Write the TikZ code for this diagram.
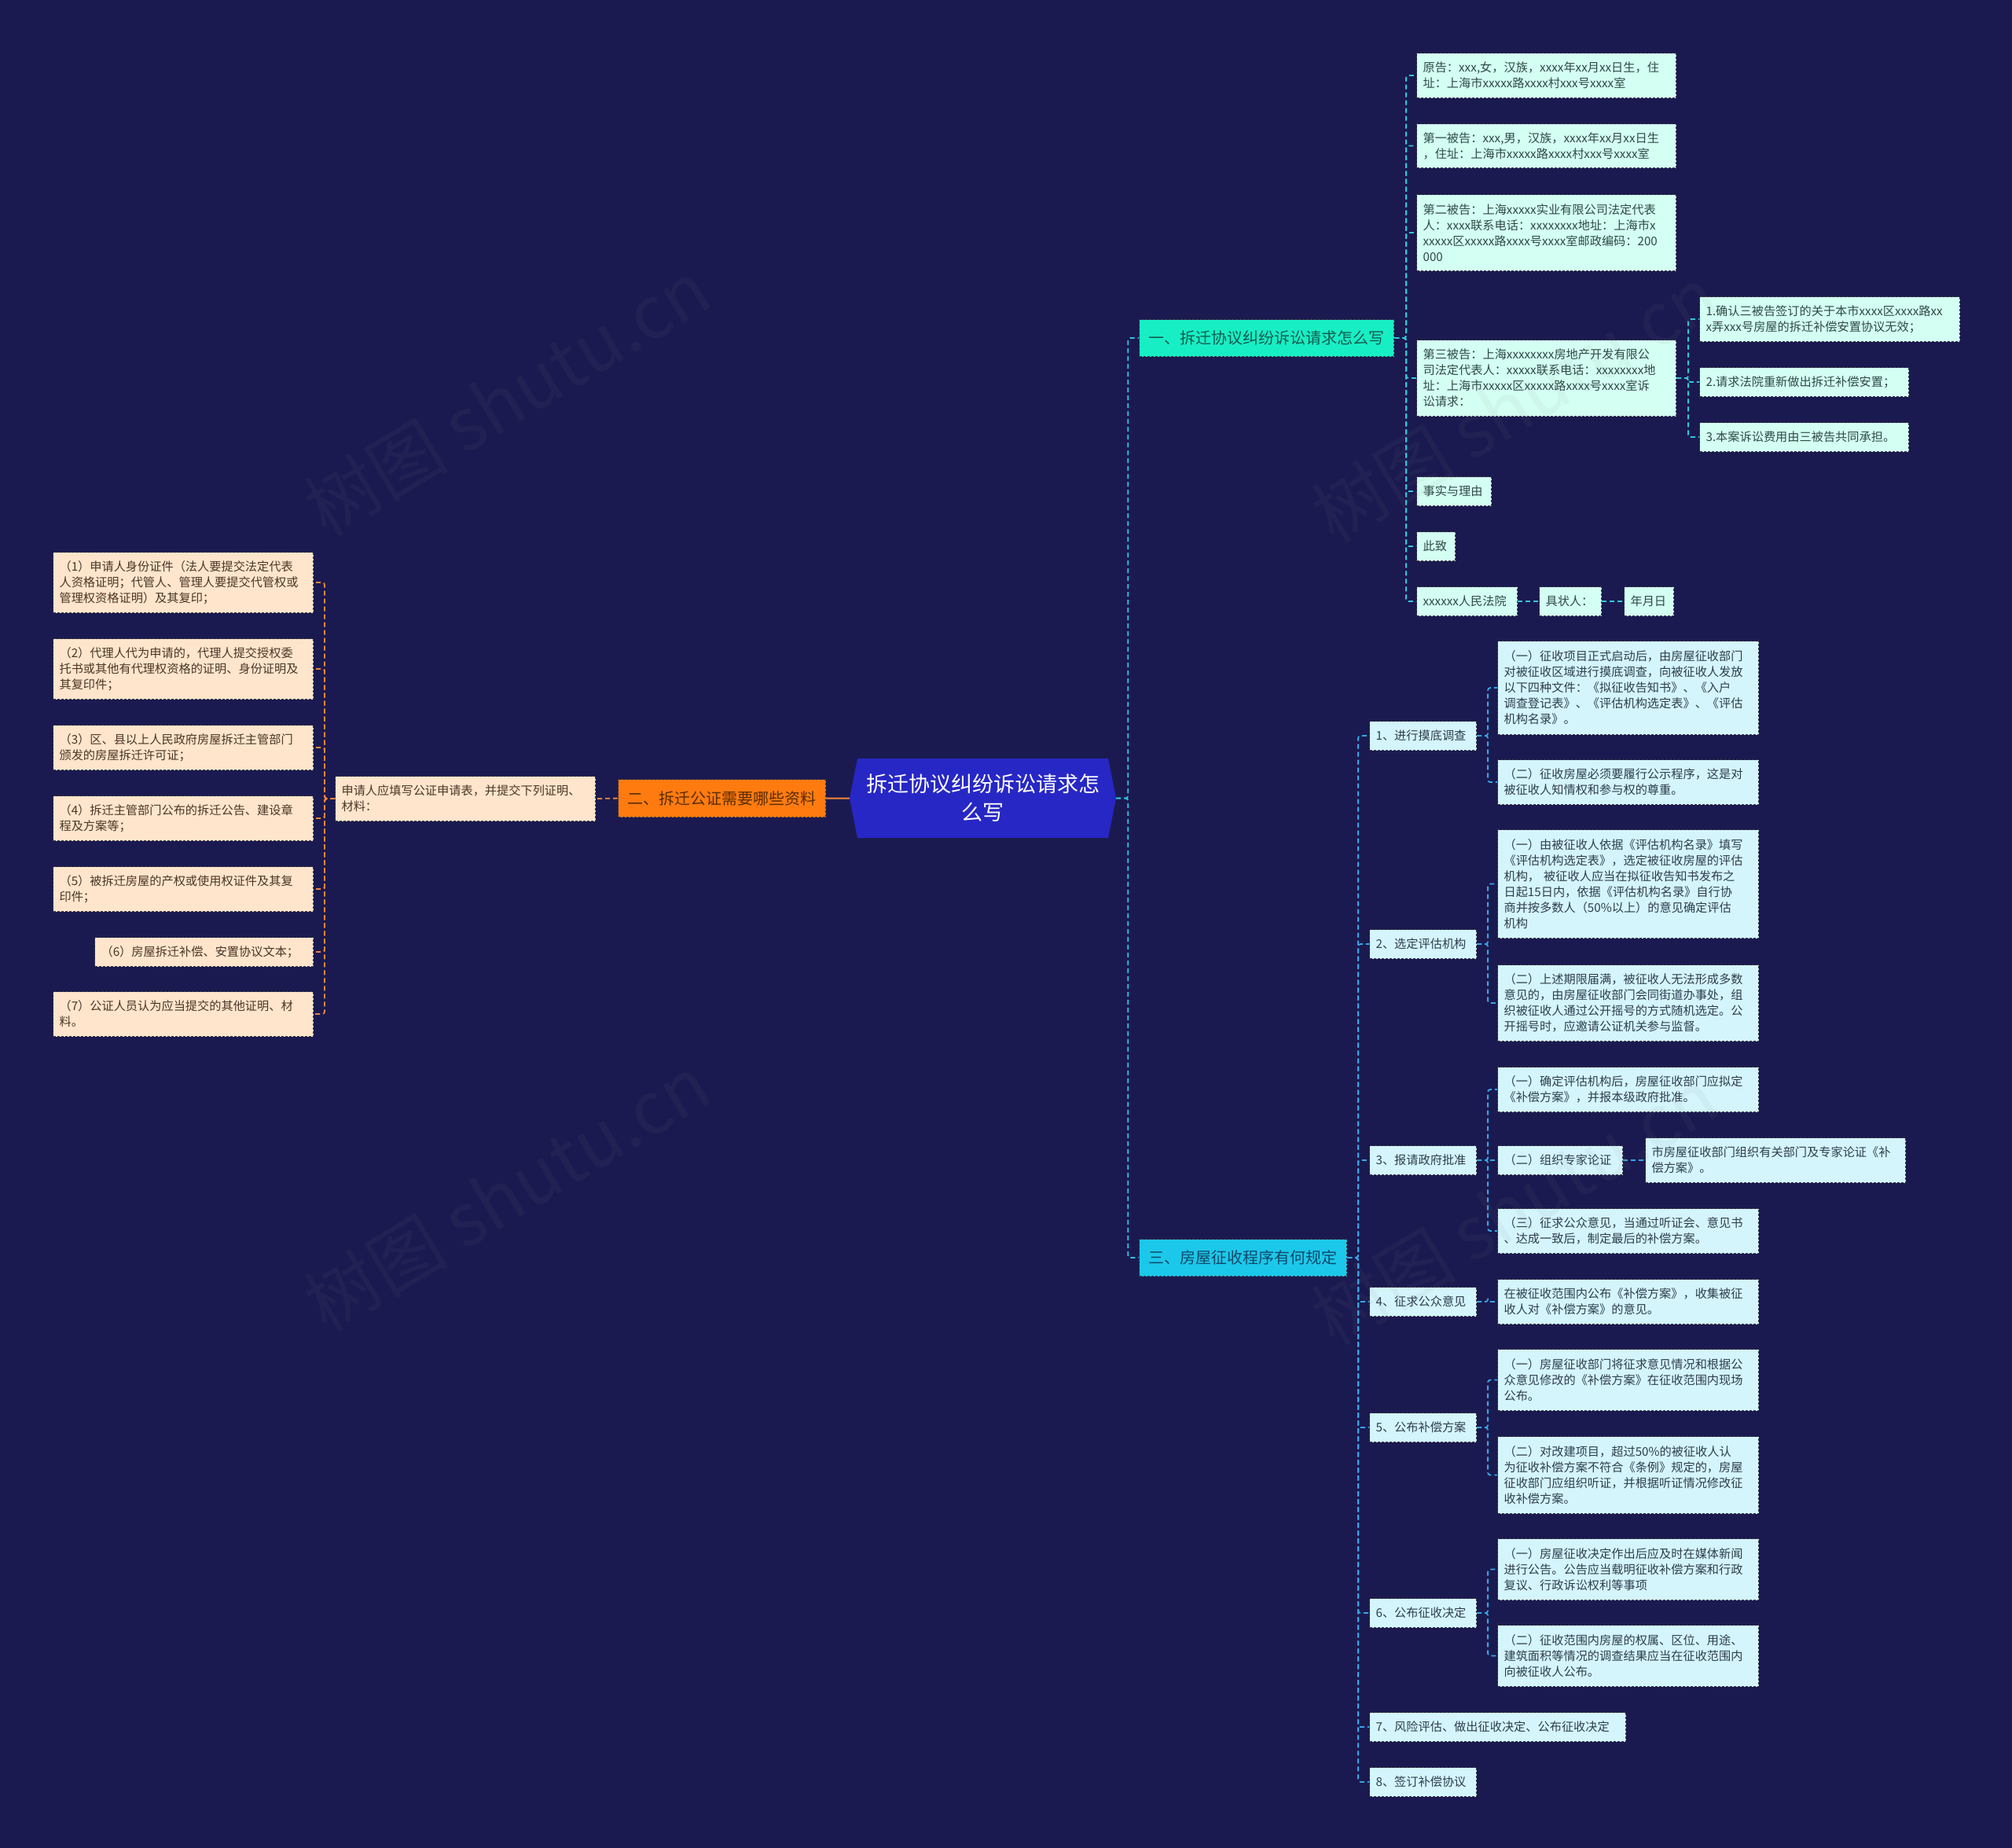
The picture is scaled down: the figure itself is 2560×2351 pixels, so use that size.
\documentclass[tikz,border=0pt]{standalone}
\usepackage{fontspec}
\setmainfont{Noto Sans CJK SC}
\definecolor{bg}{HTML}{1B1A50}
\definecolor{rootblue}{HTML}{2727C6}
\definecolor{bonefill}{HTML}{18EEC4}
\definecolor{bthreefill}{HTML}{1CC8EA}
\definecolor{btwofill}{HTML}{FF7B10}
\definecolor{mint}{HTML}{D4FFF3}
\definecolor{lcyan}{HTML}{D4F5FC}
\definecolor{peach}{HTML}{FFE5CC}
\definecolor{ltexta}{HTML}{2E4A46}
\definecolor{ltextc}{HTML}{2E3D4C}
\definecolor{ltextb}{HTML}{4A3626}
\definecolor{btexta}{HTML}{145C50}
\definecolor{btextc}{HTML}{12486A}
\definecolor{btextb}{HTML}{5A2C02}
\definecolor{cola}{HTML}{33C6D8}
\definecolor{colc}{HTML}{36A6E6}
\definecolor{colb}{HTML}{F0883A}
\definecolor{colm}{HTML}{30C4E2}
\definecolor{bord}{HTML}{3A3A46}
\begin{document}
\begin{tikzpicture}[x=1pt,y=-1pt,
  leafbase/.style={rectangle, anchor=north west, align=left, inner xsep=8pt, inner ysep=0pt,
    font=\fontsize{15.2}{20}\selectfont, draw=bord, line width=1.1pt, dash pattern=on 3pt off 2pt},
  lfa/.style={leafbase, fill=mint, text=ltexta},
  lfc/.style={leafbase, fill=lcyan, text=ltextc},
  lfb/.style={leafbase, fill=peach, text=ltextb},
  branchbox/.style={rectangle, anchor=north west, align=center, inner sep=0pt,
    font=\fontsize{20}{24}\selectfont, draw=bord, line width=1.1pt, dash pattern=on 3pt off 2pt},
  cona/.style={draw=cola, line width=1.8pt, dash pattern=on 6pt off 4pt, rounded corners=3pt},
  conc/.style={draw=colc, line width=1.8pt, dash pattern=on 6pt off 4pt, rounded corners=3pt},
  conb/.style={draw=colb, line width=1.8pt, dash pattern=on 6pt off 4pt, rounded corners=3pt},
  conbsolid/.style={draw=colb, line width=2pt},
  conm/.style={draw=colm, line width=1.8pt, dash pattern=on 6pt off 4pt, rounded corners=3pt},
  wm/.style={font=\fontsize{92}{100}\selectfont, text=gray, opacity=0.07, rotate=31}
]
\fill[bg] (0,0) rectangle (2560,2351);
\useasboundingbox (0,0) rectangle (2560,2351);

% root
\fill[rootblue] (1091,965) -- (1410,965) -- (1420,1015.5) -- (1410,1066) -- (1091,1066) -- (1081,1015.5) -- cycle;
\node[inner sep=0pt, minimum width=339pt, minimum height=101pt, align=center, text=white,
  font=\fontsize{27}{36}\selectfont] (root) at (1250.5,1015.5) {拆迁协议纠纷诉讼请求怎\\么写};

% branches
\node[branchbox, fill=bonefill, text=btexta, minimum width=324pt, minimum height=47pt] (b1) at (1449,406) {一、拆迁协议纠纷诉讼请求怎么写};
\node[branchbox, fill=bthreefill, text=btextc, minimum width=264pt, minimum height=47pt] (b3) at (1449,1576) {三、房屋征收程序有何规定};
\node[branchbox, fill=btwofill, text=btextb, minimum width=264pt, minimum height=48pt] (b2) at (786,991) {二、拆迁公证需要哪些资料};

% branch 1 leaves
\node[lfa, text width=314pt, minimum height=57pt] (a1) at (1802,67) {原告：xxx,女，汉族，xxxx年xx月xx日生，住\\址：上海市xxxxx路xxxx村xxx号xxxx室};
\node[lfa, text width=314pt, minimum height=56pt] (a2) at (1802,157) {第一被告：xxx,男，汉族，xxxx年xx月xx日生\\，住址：上海市xxxxx路xxxx村xxx号xxxx室};
\node[lfa, text width=314pt, minimum height=97pt] (a3) at (1802,247) {第二被告：上海xxxxx实业有限公司法定代表\\人：xxxx联系电话：xxxxxxxx地址：上海市x\\xxxxx区xxxxx路xxxx号xxxx室邮政编码：200\\000};
\node[lfa, text width=314pt, minimum height=97pt] (a4) at (1802,432) {第三被告：上海xxxxxxxx房地产开发有限公\\司法定代表人：xxxxx联系电话：xxxxxxxx地\\址：上海市xxxxx区xxxxx路xxxx号xxxx室诉\\讼请求：};
\node[lfa, text width=315pt, minimum height=57pt] (a41) at (2162,377) {1.确认三被告签订的关于本市xxxx区xxxx路xx\\x弄xxx号房屋的拆迁补偿安置协议无效；};
\node[lfa, text width=250pt, minimum height=37pt] (a42) at (2162,467) {2.请求法院重新做出拆迁补偿安置；};
\node[lfa, text width=250pt, minimum height=37pt] (a43) at (2162,537) {3.本案诉讼费用由三被告共同承担。};
\node[lfa, text width=79pt, minimum height=37pt] (a5) at (1802,606) {事实与理由};
\node[lfa, text width=33pt, minimum height=37pt] (a6) at (1802,676) {此致};
\node[lfa, text width=112pt, minimum height=37pt] (a7) at (1802,746) {xxxxxx人民法院};
\node[lfa, text width=63pt, minimum height=37pt] (a8) at (1958,746) {具状人：};
\node[lfa, text width=47pt, minimum height=37pt] (a9) at (2066,746) {年月日};

% branch 3 children
\node[lfc, text width=120pt, minimum height=37pt] (c1) at (1742,917) {1、进行摸底调查};
\node[lfc, text width=120pt, minimum height=37pt] (c2) at (1742,1182) {2、选定评估机构};
\node[lfc, text width=120pt, minimum height=37pt] (c3) at (1742,1457) {3、报请政府批准};
\node[lfc, text width=120pt, minimum height=37pt] (c4) at (1742,1637) {4、征求公众意见};
\node[lfc, text width=120pt, minimum height=37pt] (c5) at (1742,1797) {5、公布补偿方案};
\node[lfc, text width=120pt, minimum height=37pt] (c6) at (1742,2033) {6、公布征收决定};
\node[lfc, text width=310pt, minimum height=37pt] (c7) at (1742,2178) {7、风险评估、做出征收决定、公布征收决定};
\node[lfc, text width=120pt, minimum height=37pt] (c8) at (1742,2248) {8、签订补偿协议};

% branch 3 grandchildren
\node[lfc, text width=316pt, minimum height=119pt] (d11) at (1905,815) {（一）征收项目正式启动后，由房屋征收部门\\对被征收区域进行摸底调查，向被征收人发放\\以下四种文件：《拟征收告知书》、《入户\\调查登记表》、《评估机构选定表》、《评估\\机构名录》。};
\node[lfc, text width=316pt, minimum height=57pt] (d12) at (1905,966) {（二）征收房屋必须要履行公示程序，这是对\\被征收人知情权和参与权的尊重。};
\node[lfc, text width=316pt, minimum height=138pt] (d21) at (1905,1055) {（一）由被征收人依据《评估机构名录》填写\\《评估机构选定表》，选定被征收房屋的评估\\机构， 被征收人应当在拟征收告知书发布之\\日起15日内，依据《评估机构名录》自行协\\商并按多数人（50\%以上）的意见确定评估\\机构};
\node[lfc, text width=316pt, minimum height=97pt] (d22) at (1905,1227) {（二）上述期限届满，被征收人无法形成多数\\意见的，由房屋征收部门会同街道办事处，组\\织被征收人通过公开摇号的方式随机选定。公\\开摇号时，应邀请公证机关参与监督。};
\node[lfc, text width=316pt, minimum height=57pt] (d31) at (1905,1357) {（一）确定评估机构后，房屋征收部门应拟定\\《补偿方案》，并报本级政府批准。};
\node[lfc, text width=143pt, minimum height=37pt] (d32) at (1905,1457) {（二）组织专家论证};
\node[lfc, text width=315pt, minimum height=57pt] (e32) at (2093,1447) {市房屋征收部门组织有关部门及专家论证《补\\偿方案》。};
\node[lfc, text width=316pt, minimum height=57pt] (d33) at (1905,1537) {（三）征求公众意见，当通过听证会、意见书\\、达成一致后，制定最后的补偿方案。};
\node[lfc, text width=316pt, minimum height=57pt] (d41) at (1905,1627) {在被征收范围内公布《补偿方案》，收集被征\\收人对《补偿方案》的意见。};
\node[lfc, text width=316pt, minimum height=78pt] (d51) at (1905,1716) {（一）房屋征收部门将征求意见情况和根据公\\众意见修改的《补偿方案》在征收范围内现场\\公布。};
\node[lfc, text width=316pt, minimum height=98pt] (d52) at (1905,1827) {（二）对改建项目，超过50\%的被征收人认\\为征收补偿方案不符合《条例》规定的，房屋\\征收部门应组织听证，并根据听证情况修改征\\收补偿方案。};
\node[lfc, text width=316pt, minimum height=78pt] (d61) at (1905,1957) {（一）房屋征收决定作出后应及时在媒体新闻\\进行公告。公告应当载明征收补偿方案和行政\\复议、行政诉讼权利等事项};
\node[lfc, text width=316pt, minimum height=78pt] (d62) at (1905,2067) {（二）征收范围内房屋的权属、区位、用途、\\建筑面积等情况的调查结果应当在征收范围内\\向被征收人公布。};

% branch 2
\node[lfb, text width=315pt, minimum height=57pt] (o1) at (426,987) {申请人应填写公证申请表，并提交下列证明、\\材料：};
\node[lfb, text width=315pt, minimum height=77pt] (L1) at (67,702) {（1）申请人身份证件（法人要提交法定代表\\人资格证明；代管人、管理人要提交代管权或\\管理权资格证明）及其复印；};
\node[lfb, text width=315pt, minimum height=77pt] (L2) at (67,812) {（2）代理人代为申请的，代理人提交授权委\\托书或其他有代理权资格的证明、身份证明及\\其复印件；};
\node[lfb, text width=315pt, minimum height=57pt] (L3) at (67,922) {（3）区、县以上人民政府房屋拆迁主管部门\\颁发的房屋拆迁许可证；};
\node[lfb, text width=315pt, minimum height=57pt] (L4) at (67,1012) {（4）拆迁主管部门公布的拆迁公告、建设章\\程及方案等；};
\node[lfb, text width=315pt, minimum height=57pt] (L5) at (67,1102) {（5）被拆迁房屋的产权或使用权证件及其复\\印件；};
\node[lfb, text width=262pt, minimum height=37pt] (L6) at (120,1192) {（6）房屋拆迁补偿、安置协议文本；};
\node[lfb, text width=315pt, minimum height=57pt] (L7) at (67,1261) {（7）公证人员认为应当提交的其他证明、材\\料。};

% connectors: root
\draw[conm] (root.east) -- ++(15,0) |- (b1.west);
\draw[conm] (root.east) -- ++(15,0) |- (b3.west);
\draw[conbsolid] (root.west) -- (b2.east);
\draw[conb] (b2.west) -- (o1.east);
\foreach \n in {L1,L2,L3,L4,L5,L6,L7}
  \draw[conb] (o1.west) -- ++(-13,0) |- (\n.east);

% branch 1
\foreach \n in {a1,a2,a3,a4,a5,a6,a7}
  \draw[cona] (b1.east) -- ++(15,0) |- (\n.west);
\foreach \n in {a41,a42,a43}
  \draw[cona] (a4.east) -- ++(15,0) |- (\n.west);
\draw[cona] (a7.east) -- (a8.west);
\draw[cona] (a8.east) -- (a9.west);

% branch 3
\foreach \n in {c1,c2,c3,c4,c5,c6,c7,c8}
  \draw[conc] (b3.east) -- ++(14,0) |- (\n.west);
\foreach \p/\q in {c1/d11,c1/d12,c2/d21,c2/d22,c3/d31,c3/d32,c3/d33,c4/d41,c5/d51,c5/d52,c6/d61,c6/d62}
  \draw[conc] (\p.east) -- ++(14,0) |- (\q.west);
\draw[conc] (d32.east) -- (e32.west);

% watermarks
\node[wm] (w1) at (645,506) {树图 shutu.cn};
\node[wm] (w2) at (645,1518) {树图 shutu.cn};
\node[wm] (w3) at (1927,514) {树图 shutu.cn};
\node[wm] (w4) at (1927,1535) {树图 shutu.cn};
\end{tikzpicture}
\end{document}
